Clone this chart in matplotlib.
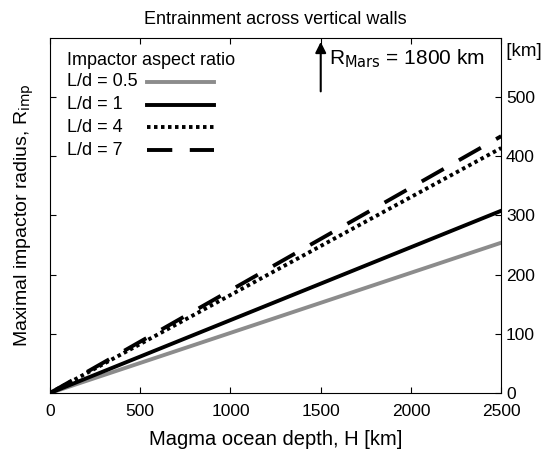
import numpy as np
import matplotlib.pyplot as plt

plt.rcParams['font.family'] = ['Liberation Sans', 'DejaVu Sans']

depth = [0, 2500]
labels = ['L/d = 0.5', 'L/d = 1', 'L/d = 4', 'L/d = 7']
radius_end = [254, 308, 414, 434]
colors = ['#8c8c8c', 'black', 'black', 'black']
styles = ['-', '-', (0, (0.9, 0.9)), (0, (6.5, 4.5))]

fig = plt.figure(figsize=(5.49, 4.57), dpi=100)
ax = fig.add_axes([0.091, 0.14, 0.822, 0.777])

for lab, r, c, ls in zip(labels, radius_end, colors, styles):
    ax.plot(depth, [0, r], color=c, linestyle=ls, linewidth=2.8, label=lab)

ax.set_xlim(0, 2500)
ax.set_ylim(0, 600)
ax.set_xticks([0, 500, 1000, 1500, 2000, 2500])
ax.set_yticks([0, 100, 200, 300, 400, 500])
ax.tick_params(direction='in', length=4, labelsize=12.5, top=True, right=True,
               labelleft=False, labelright=True)
ax.tick_params(axis='x', pad=8)
ax.set_xlabel('Magma ocean depth, H [km]', fontsize=14.5, labelpad=8)
ax.set_ylabel(r'Maximal impactor radius, R$_{\mathrm{imp}}$', fontsize=14, labelpad=10)
ax.set_title('Entrainment across vertical walls', fontsize=13, pad=10)

ax.text(1.0, 0.985, ' [km]', transform=ax.transAxes, fontsize=13.5,
        ha='left', va='top')

ax.annotate('', xy=(1500, 598), xytext=(1500, 505),
            arrowprops=dict(arrowstyle='-|>', color='black', lw=1.5,
                            mutation_scale=16))
ax.text(1545, 565, r'R$_{\mathrm{Mars}}$ = 1800 km', fontsize=15,
        ha='left', va='center')

# legend drawn by hand: title, then label on the left, sample line on the right
ax.text(0.037, 0.936, 'Impactor aspect ratio', transform=ax.transAxes,
        fontsize=13, ha='left', va='center')
for i, (lab, c, ls) in enumerate(zip(labels, colors, styles)):
    yy = 0.876 - i * 0.064
    ax.text(0.037, yy, lab, transform=ax.transAxes, fontsize=13,
            ha='left', va='center')
    ax.plot([0.215, 0.363], [yy, yy], transform=ax.transAxes, color=c,
            linestyle=ls, linewidth=2.8)

fig.savefig('out.png', dpi=100)
